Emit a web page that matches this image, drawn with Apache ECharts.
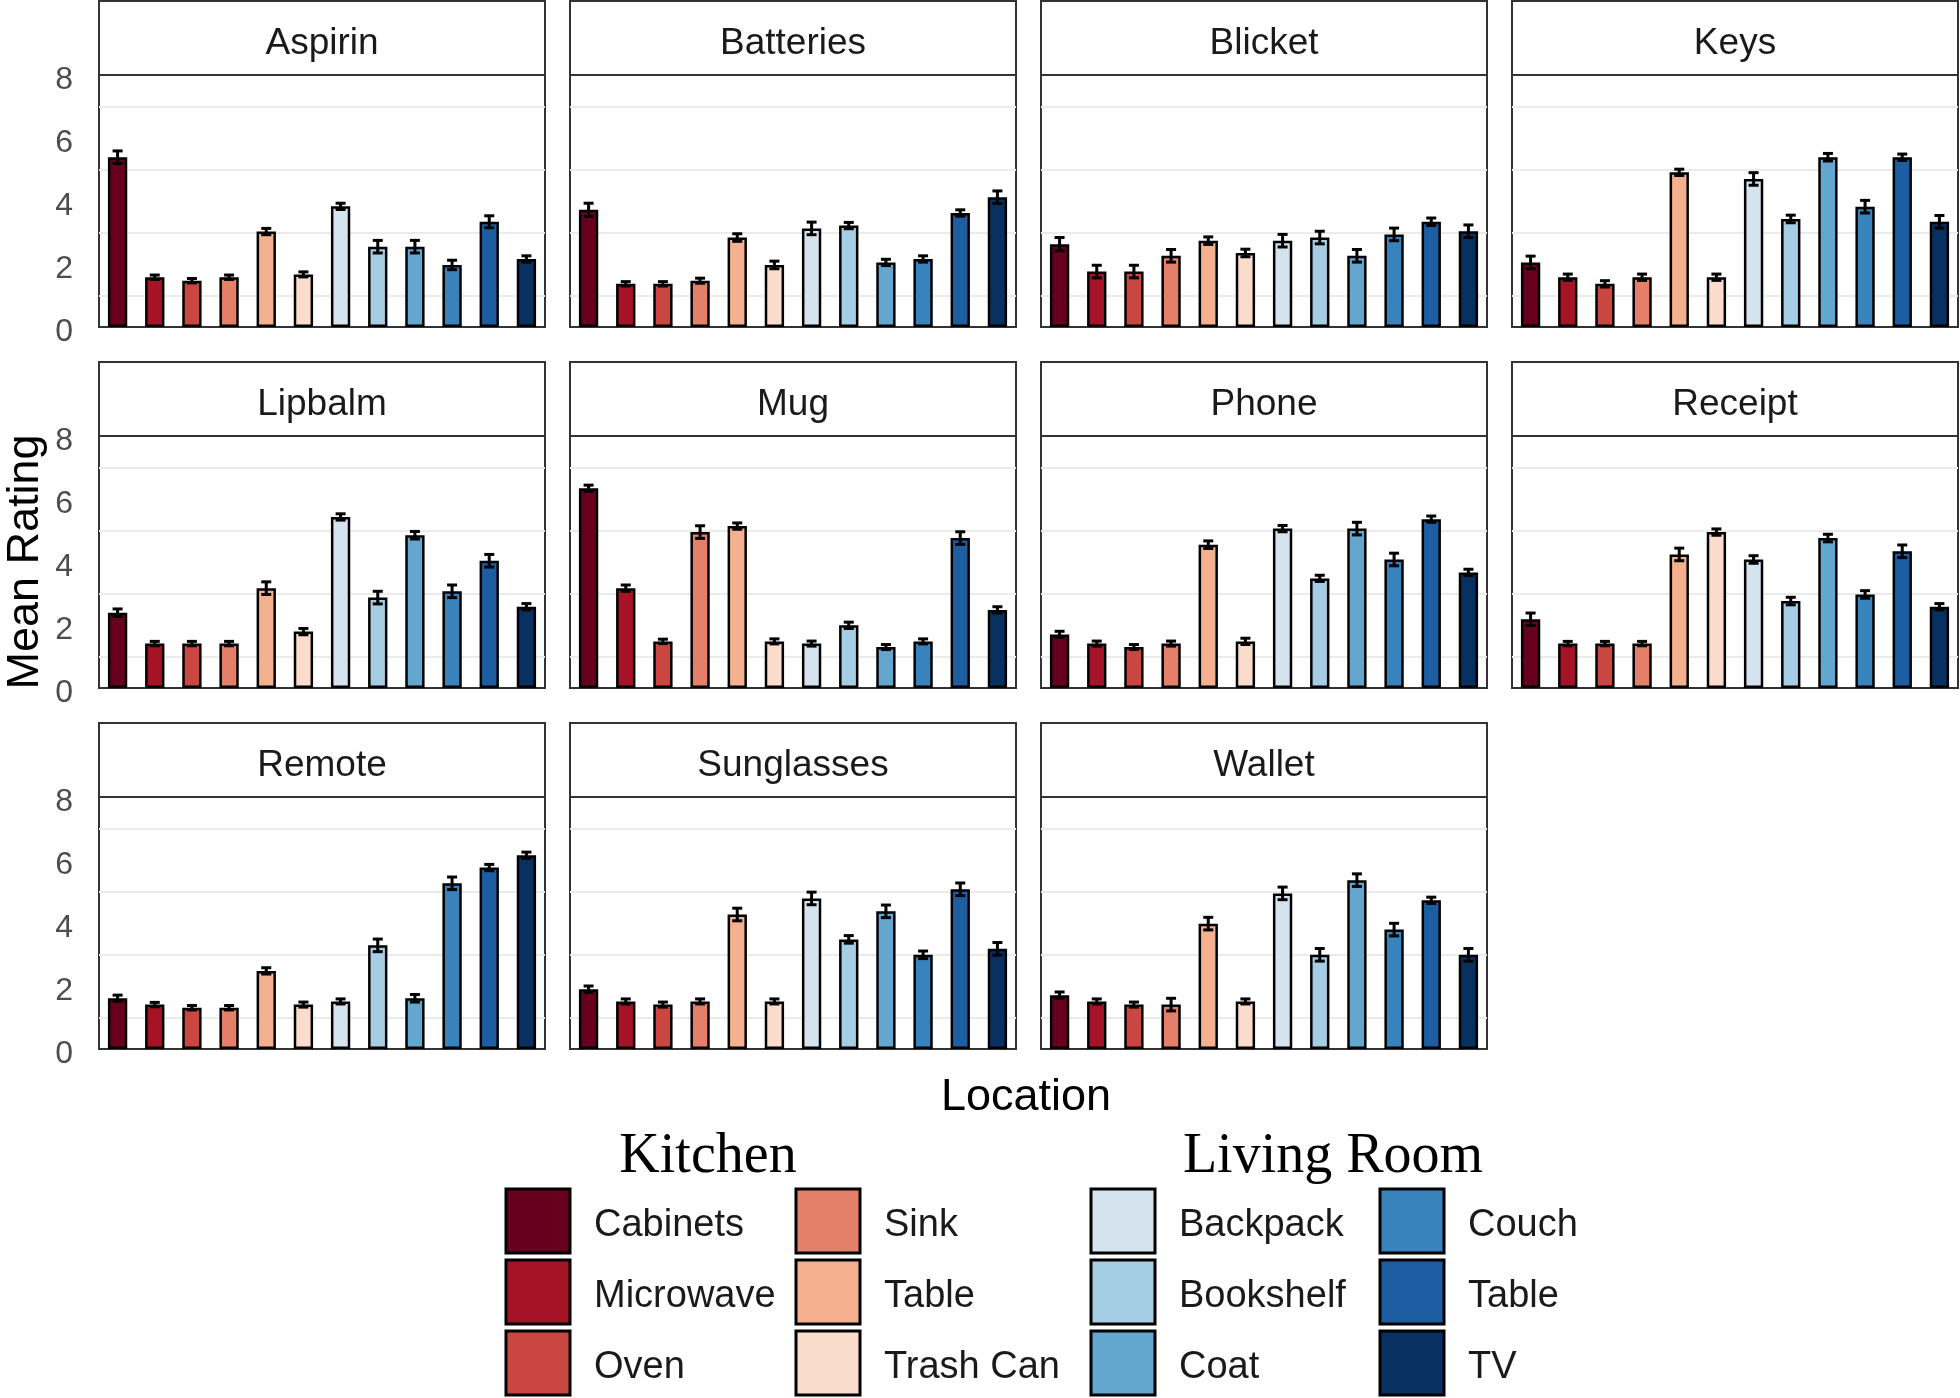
<!DOCTYPE html>
<html><head><meta charset="utf-8">
<script src="https://cdn.jsdelivr.net/npm/echarts@6/dist/echarts.min.js"></script>
<style>html,body{margin:0;padding:0;background:#fff}#chart{width:1960px;height:1398px}</style>
</head><body><div id="chart"></div>
<script>
// ---------- data ----------
const kitchenLocations = ['Cabinets', 'Microwave', 'Oven', 'Sink', 'Table', 'Trash Can'];
const livingLocations = ['Backpack', 'Bookshelf', 'Coat', 'Couch', 'Table', 'TV'];
const kitchenColors = ['#67001F', '#A51326', '#CA4741', '#E4806A', '#F4B08F', '#F9DCCB'];
const livingColors = ['#D5E3EE', '#A5CDE3', '#63A7CF', '#3883BC', '#1D5DA2', '#083060'];
const objects = ['Aspirin', 'Batteries', 'Blicket', 'Keys', 'Lipbalm', 'Mug', 'Phone', 'Receipt', 'Remote', 'Sunglasses', 'Wallet'];
const yTicks = [0, 2, 4, 6, 8];

// mean ratings, order: kitchen locations then living room locations
const aspirinMeans    = [5.39, 1.58, 1.47, 1.58, 3.03, 1.67, 3.83, 2.55, 2.55, 1.97, 3.34, 2.16];
const batteriesMeans  = [3.72, 1.37, 1.37, 1.47, 2.84, 1.97, 3.13, 3.22, 2.05, 2.16, 3.62, 4.12];
const blicketMeans    = [2.63, 1.76, 1.76, 2.26, 2.74, 2.35, 2.74, 2.84, 2.26, 2.94, 3.34, 3.04];
const keysMeans       = [2.05, 1.58, 1.37, 1.58, 4.91, 1.58, 4.70, 3.43, 5.39, 3.82, 5.39, 3.34];
const lipbalmMeans    = [2.39, 1.41, 1.41, 1.41, 3.17, 1.79, 5.43, 2.87, 4.85, 3.07, 4.04, 2.58];
const mugMeans        = [6.34, 3.17, 1.48, 4.95, 5.14, 1.48, 1.41, 1.99, 1.30, 1.48, 4.76, 2.48];
const phoneMeans      = [1.70, 1.41, 1.30, 1.41, 4.55, 1.48, 5.06, 3.48, 5.06, 4.08, 5.36, 3.67];
const receiptMeans    = [2.18, 1.41, 1.41, 1.41, 4.24, 4.95, 4.08, 2.76, 4.76, 2.97, 4.34, 2.58];
const remoteMeans     = [1.61, 1.41, 1.31, 1.31, 2.48, 1.41, 1.51, 3.29, 1.61, 5.26, 5.76, 6.15];
const sunglassesMeans = [1.90, 1.51, 1.41, 1.51, 4.27, 1.51, 4.78, 3.48, 4.37, 2.99, 5.07, 3.18];
const walletMeans     = [1.71, 1.51, 1.41, 1.41, 3.98, 1.51, 4.94, 2.99, 5.36, 3.79, 4.72, 2.99];

// standard errors
const aspirinSE    = [0.20, 0.07, 0.07, 0.07, 0.10, 0.08, 0.10, 0.20, 0.20, 0.15, 0.19, 0.10];
const batteriesSE  = [0.21, 0.07, 0.07, 0.08, 0.12, 0.12, 0.20, 0.10, 0.10, 0.10, 0.10, 0.20];
const blicketSE    = [0.21, 0.20, 0.20, 0.20, 0.12, 0.12, 0.20, 0.20, 0.20, 0.20, 0.12, 0.20];
const keysSE       = [0.20, 0.10, 0.10, 0.10, 0.10, 0.10, 0.20, 0.12, 0.12, 0.20, 0.10, 0.20];
const lipbalmSE    = [0.12, 0.07, 0.07, 0.07, 0.20, 0.10, 0.10, 0.20, 0.12, 0.20, 0.20, 0.10];
const mugSE        = [0.10, 0.10, 0.07, 0.20, 0.10, 0.08, 0.08, 0.10, 0.08, 0.08, 0.20, 0.10];
const phoneSE      = [0.10, 0.08, 0.08, 0.08, 0.12, 0.10, 0.10, 0.10, 0.20, 0.20, 0.10, 0.10];
const receiptSE    = [0.20, 0.07, 0.07, 0.07, 0.20, 0.10, 0.12, 0.12, 0.12, 0.12, 0.20, 0.10];
const remoteSE     = [0.10, 0.07, 0.07, 0.07, 0.10, 0.08, 0.08, 0.20, 0.12, 0.20, 0.10, 0.10];
const sunglassesSE = [0.10, 0.08, 0.08, 0.08, 0.20, 0.08, 0.20, 0.12, 0.20, 0.12, 0.20, 0.20];
const walletSE     = [0.10, 0.08, 0.08, 0.20, 0.20, 0.08, 0.20, 0.20, 0.20, 0.20, 0.10, 0.20];

// ---------- build ----------
const panelMeans = [aspirinMeans, batteriesMeans, blicketMeans, keysMeans, lipbalmMeans, mugMeans,
  phoneMeans, receiptMeans, remoteMeans, sunglassesMeans, walletMeans];
const panelSE = [aspirinSE, batteriesSE, blicketSE, keysSE, lipbalmSE, mugSE,
  phoneSE, receiptSE, remoteSE, sunglassesSE, walletSE];
const categories = kitchenLocations.map(k => 'Kitchen ' + k).concat(livingLocations.map(l => 'Living Room ' + l));
const colors = kitchenColors.concat(livingColors);

const FONT = '"Liberation Sans", Arial, sans-serif';
const SERIF = '"Liberation Serif", "Times New Roman", serif';
const colLeft = [99, 570, 1041, 1512];
const rowTop = [75, 436, 797];
const PW = 446, PH = 252, STRIP = 74;

const grids = [], xAxes = [], yAxes = [], series = [], graphics = [];
objects.forEach((name, p) => {
  const c = p % 4, r = Math.floor(p / 4);
  grids.push({left: colLeft[c], top: rowTop[r], width: PW, height: PH, show: true,
    backgroundColor: 'transparent', borderColor: '#333', borderWidth: 2, containLabel: false});
  xAxes.push({gridIndex: p, type: 'category', data: categories, boundaryGap: true,
    axisLine: {show: false}, axisTick: {show: false}, axisLabel: {show: false}, splitLine: {show: false}});
  yAxes.push({gridIndex: p, type: 'value', min: yTicks[0], max: yTicks[yTicks.length - 1], interval: 2,
    axisLine: {show: false}, axisTick: {show: false},
    axisLabel: {show: c === 0, margin: 26, formatter: '{t|{value}}',
      rich: {t: {fontFamily: FONT, fontSize: 32, color: '#4d4d4d', padding: [10, 0, 0, 0]}}},
    splitLine: {show: false},
    minorTick: {show: false, splitNumber: 2},
    minorSplitLine: {show: true, lineStyle: {color: '#ebebeb', width: 2}}});
  series.push({type: 'bar', xAxisIndex: p, yAxisIndex: p, barWidth: '52%',
    data: panelMeans[p].map((v, i) => ({value: v, itemStyle: {color: colors[i]}})),
    itemStyle: {borderColor: '#000', borderWidth: 2.5}, silent: true, z: 2});
  series.push({type: 'custom', xAxisIndex: p, yAxisIndex: p, silent: true, z: 3,
    data: panelMeans[p].map((v, i) => [i, v, panelSE[p][i]]),
    renderItem: function (params, api) {
      const x = api.value(0), m = api.value(1), s = api.value(2);
      const t = api.coord([x, m + s]);
      const b = api.coord([x, m - s]);
      const h = 5;
      const st = {stroke: '#000', lineWidth: 3};
      return {type: 'group', children: [
        {type: 'line', shape: {x1: t[0], y1: t[1], x2: b[0], y2: b[1]}, style: st},
        {type: 'line', shape: {x1: t[0] - h, y1: t[1], x2: t[0] + h, y2: t[1]}, style: st},
        {type: 'line', shape: {x1: b[0] - h, y1: b[1], x2: b[0] + h, y2: b[1]}, style: st}
      ]};
    }});
  // facet strip
  graphics.push({type: 'rect', shape: {x: colLeft[c], y: rowTop[r] - STRIP, width: PW, height: STRIP},
    style: {fill: '#fff', stroke: '#333', lineWidth: 2}, z: 10});
  graphics.push({type: 'text', x: colLeft[c] + PW / 2, y: rowTop[r] - STRIP / 2 + 6, z: 11,
    style: {text: name, fontFamily: FONT, fontSize: 37, fill: '#1a1a1a', align: 'center', verticalAlign: 'middle'}});
});

// axis titles
graphics.push({type: 'text', x: 26, y: 562, rotation: Math.PI / 2, z: 11,
  style: {text: 'Mean Rating', fontFamily: FONT, fontSize: 45, fill: '#000', align: 'center', verticalAlign: 'middle'}});
graphics.push({type: 'text', x: 1026, y: 1098, z: 11,
  style: {text: 'Location', fontFamily: FONT, fontSize: 45, fill: '#000', align: 'center', verticalAlign: 'middle'}});

// legend
const legendGroups = [
  {title: 'Kitchen', items: kitchenLocations, cols: kitchenColors, titleX: 708, boxX: [506, 796]},
  {title: 'Living Room', items: livingLocations, cols: livingColors, titleX: 1333, boxX: [1091, 1380]}
];
const rowY = [1189, 1260, 1331];
legendGroups.forEach(g => {
  graphics.push({type: 'text', x: g.titleX, y: 1157, z: 11,
    style: {text: g.title, fontFamily: SERIF, fontSize: 56, fill: '#000', align: 'center', verticalAlign: 'middle'}});
  g.items.forEach((it, i) => {
    const col = Math.floor(i / 3), row = i % 3;
    const bx = g.boxX[col], by = rowY[row];
    graphics.push({type: 'rect', shape: {x: bx, y: by, width: 64, height: 64}, z: 11,
      style: {fill: g.cols[i], stroke: '#000', lineWidth: 3}});
    graphics.push({type: 'text', x: bx + 88, y: by + 37, z: 11,
      style: {text: it, fontFamily: FONT, fontSize: 38, fill: '#1a1a1a', align: 'left', verticalAlign: 'middle'}});
  });
});

const chart = echarts.init(document.getElementById('chart'), null, {renderer: 'canvas'});
chart.setOption({
  animation: false,
  backgroundColor: '#fff',
  grid: grids, xAxis: xAxes, yAxis: yAxes, series: series, graphic: graphics
});
</script>
</body></html>
